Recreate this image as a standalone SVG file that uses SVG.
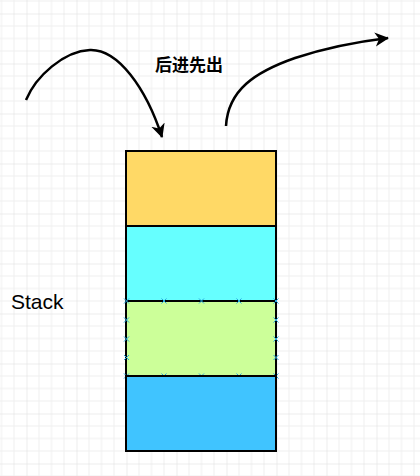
<svg xmlns="http://www.w3.org/2000/svg" width="420" height="476" viewBox="0 0 420 476">
<style>
.blk{stroke:#000;stroke-width:2}
.lbl{font-family:"Liberation Sans",Arial,sans-serif;fill:#000}
.cjk{font-family:"Noto Sans CJK SC","Liberation Sans",sans-serif;font-weight:bold;fill:#000}
.arr{fill:none;stroke:#000;stroke-width:2.5;marker-end:url(#ah)}
.cp{stroke:#29a8e0;stroke-width:1;fill:none}
</style>
<defs>
<pattern id="grid" patternUnits="userSpaceOnUse" x="26.5" y="13.5" width="50" height="50">
<path d="M12.5,0V50M25,0V50M37.5,0V50M0,12.5H50M0,25H50M0,37.5H50" stroke="#efefef" stroke-width="1"/>
<path d="M0,0V50M0,0H50" stroke="#dcdcdc" stroke-width="1"/>
</pattern>
<marker id="ah" markerUnits="userSpaceOnUse" markerWidth="16" markerHeight="16" refX="13" refY="7" orient="auto" viewBox="0 0 16 14">
<path d="M0,0L14,7L0,14L4,7Z" fill="#000"/>
</marker>
<path id="x" d="M-2.5,-2.5L2.5,2.5M-2.5,2.5L2.5,-2.5" class="cp"/>
</defs>
<rect width="420" height="476" fill="#fff"/>
<rect width="420" height="476" fill="url(#grid)"/>
<g id="connectors">
<path class="arr" d="M26,100 C36,76 64,51 90,50 C118,49 146,88 162,137"/>
<path class="arr" d="M226,126 C228,90 255,72 295,58 C325,48 355,42 388,38"/>
</g>
<g id="node-top"><rect class="blk" x="126" y="151" width="150" height="75" fill="#FFD966"/></g>
<g id="node-2"><rect class="blk" x="126" y="226" width="150" height="75" fill="#66FFFF"/></g>
<g id="node-3"><rect class="blk" x="126" y="301" width="150" height="75" fill="#CCFF99"/>
<g>
<use href="#x" x="126.5" y="301"/><use href="#x" x="164" y="301"/><use href="#x" x="201.5" y="301"/><use href="#x" x="239" y="301"/><use href="#x" x="276" y="301"/>
<use href="#x" x="126.5" y="376"/><use href="#x" x="164" y="376"/><use href="#x" x="201.5" y="376"/><use href="#x" x="239" y="376"/><use href="#x" x="276" y="376"/>
<use href="#x" x="126.5" y="320"/><use href="#x" x="126.5" y="339"/><use href="#x" x="126.5" y="357.5"/>
<use href="#x" x="276" y="320"/><use href="#x" x="276" y="339"/><use href="#x" x="276" y="357.5"/>
</g>
</g>
<g id="node-bottom"><rect class="blk" x="126" y="376" width="150" height="75" fill="#40C4FF"/></g>
<g id="label-lifo"><text class="cjk" x="189" y="71" text-anchor="middle" font-size="17">后进先出</text></g>
<g id="label-stack"><text class="lbl" x="11" y="309" font-size="21">Stack</text></g>
</svg>
